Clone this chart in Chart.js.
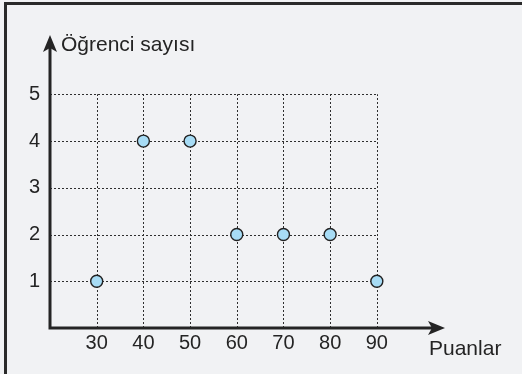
<!DOCTYPE html>
<html>
<head>
<meta charset="utf-8">
<script src="https://cdn.jsdelivr.net/npm/chart.js@4"></script>
<style>
  body { margin: 0; background: #f1f2f4; }
  canvas { display: block; }
</style>
</head>
<body>
<canvas id="myChart" width="522" height="374"></canvas>
<script>
const scores = [30, 40, 50, 60, 70, 80, 90];
const students = [1, 4, 4, 2, 2, 2, 1];
const xTicks = [30, 40, 50, 60, 70, 80, 90];
const yTicks = [1, 2, 3, 4, 5];
const xTitle = 'Puanlar';
const yTitle = 'Öğrenci sayısı';

const ink = '#242424';
const fontName = '"Liberation Sans", Arial, sans-serif';

const framePlugin = {
    id: 'frame',
    beforeDraw(chart) {
        const ctx = chart.ctx;
        ctx.save();
        ctx.fillStyle = '#f1f2f4';
        ctx.fillRect(0, 0, chart.width, chart.height);
        ctx.fillStyle = '#2a2a2a';
        ctx.fillRect(4, 2, chart.width - 4, 3);
        ctx.fillRect(4, 2, 3, chart.height - 2);
        ctx.restore();
    },
    beforeDatasetsDraw(chart) {
        const ctx = chart.ctx;
        const xs = chart.scales.x, ys = chart.scales.y;
        const area = chart.chartArea;
        const x0 = area.left, y0 = area.bottom;
        const xEnd = xs.getPixelForValue(xTicks[xTicks.length - 1]);
        const yEnd = ys.getPixelForValue(yTicks[yTicks.length - 1]);

        ctx.save();
        // dashed grid
        ctx.strokeStyle = '#2e2e2e';
        ctx.lineWidth = 1;
        ctx.setLineDash([2, 2]);
        yTicks.forEach(v => {
            const y = Math.round(ys.getPixelForValue(v)) + 0.5;
            ctx.beginPath();
            ctx.moveTo(x0, y);
            ctx.lineTo(xEnd, y);
            ctx.stroke();
        });
        xTicks.forEach(v => {
            const x = Math.round(xs.getPixelForValue(v)) + 0.5;
            ctx.beginPath();
            ctx.moveTo(x, y0);
            ctx.lineTo(x, yEnd);
            ctx.stroke();
        });
        ctx.setLineDash([]);

        // axes
        ctx.strokeStyle = ink;
        ctx.fillStyle = ink;
        ctx.lineWidth = 3;
        ctx.beginPath();
        ctx.moveTo(x0, area.top + 10);
        ctx.lineTo(x0, y0);
        ctx.lineTo(area.right - 10, y0);
        ctx.stroke();

        // arrow heads
        ctx.beginPath();
        ctx.moveTo(x0, area.top);
        ctx.lineTo(x0 + 7, area.top + 17);
        ctx.lineTo(x0, area.top + 13);
        ctx.lineTo(x0 - 7, area.top + 17);
        ctx.closePath();
        ctx.fill();

        ctx.beginPath();
        ctx.moveTo(area.right, y0);
        ctx.lineTo(area.right - 17, y0 - 7);
        ctx.lineTo(area.right - 13, y0);
        ctx.lineTo(area.right - 17, y0 + 7);
        ctx.closePath();
        ctx.fill();

        // tick labels
        ctx.font = '20px ' + fontName;
        ctx.textAlign = 'center';
        ctx.textBaseline = 'middle';
        xTicks.forEach(v => {
            ctx.fillText(String(v), xs.getPixelForValue(v), y0 + 15);
        });
        ctx.textAlign = 'right';
        yTicks.forEach(v => {
            ctx.fillText(String(v), x0 - 10, ys.getPixelForValue(v));
        });

        // axis titles
        ctx.font = '21px ' + fontName;
        ctx.textAlign = 'left';
        ctx.textBaseline = 'alphabetic';
        ctx.fillText(yTitle, x0 + 11, area.top + 16);
        ctx.fillText(xTitle, area.right - 16, y0 + 27);
        ctx.restore();
    }
};

const ctx = document.getElementById('myChart').getContext('2d');
const myChart = new Chart(ctx, {
    type: 'scatter',
    data: {
        datasets: [{
            data: scores.map((s, i) => ({ x: s, y: students[i] })),
            backgroundColor: '#a7dcf5',
            borderColor: '#222',
            borderWidth: 1.4,
            pointRadius: 6,
            pointHoverRadius: 6
        }]
    },
    options: {
        responsive: false,
        animation: false,
        layout: {
            padding: { left: 50, top: 35, right: 77, bottom: 46 }
        },
        plugins: {
            legend: { display: false },
            tooltip: { enabled: false }
        },
        scales: {
            x: { type: 'linear', min: 20, max: 104.6, display: false },
            y: { type: 'linear', min: 0, max: 6.27, display: false }
        }
    },
    plugins: [framePlugin]
});
</script>
</body>
</html>
